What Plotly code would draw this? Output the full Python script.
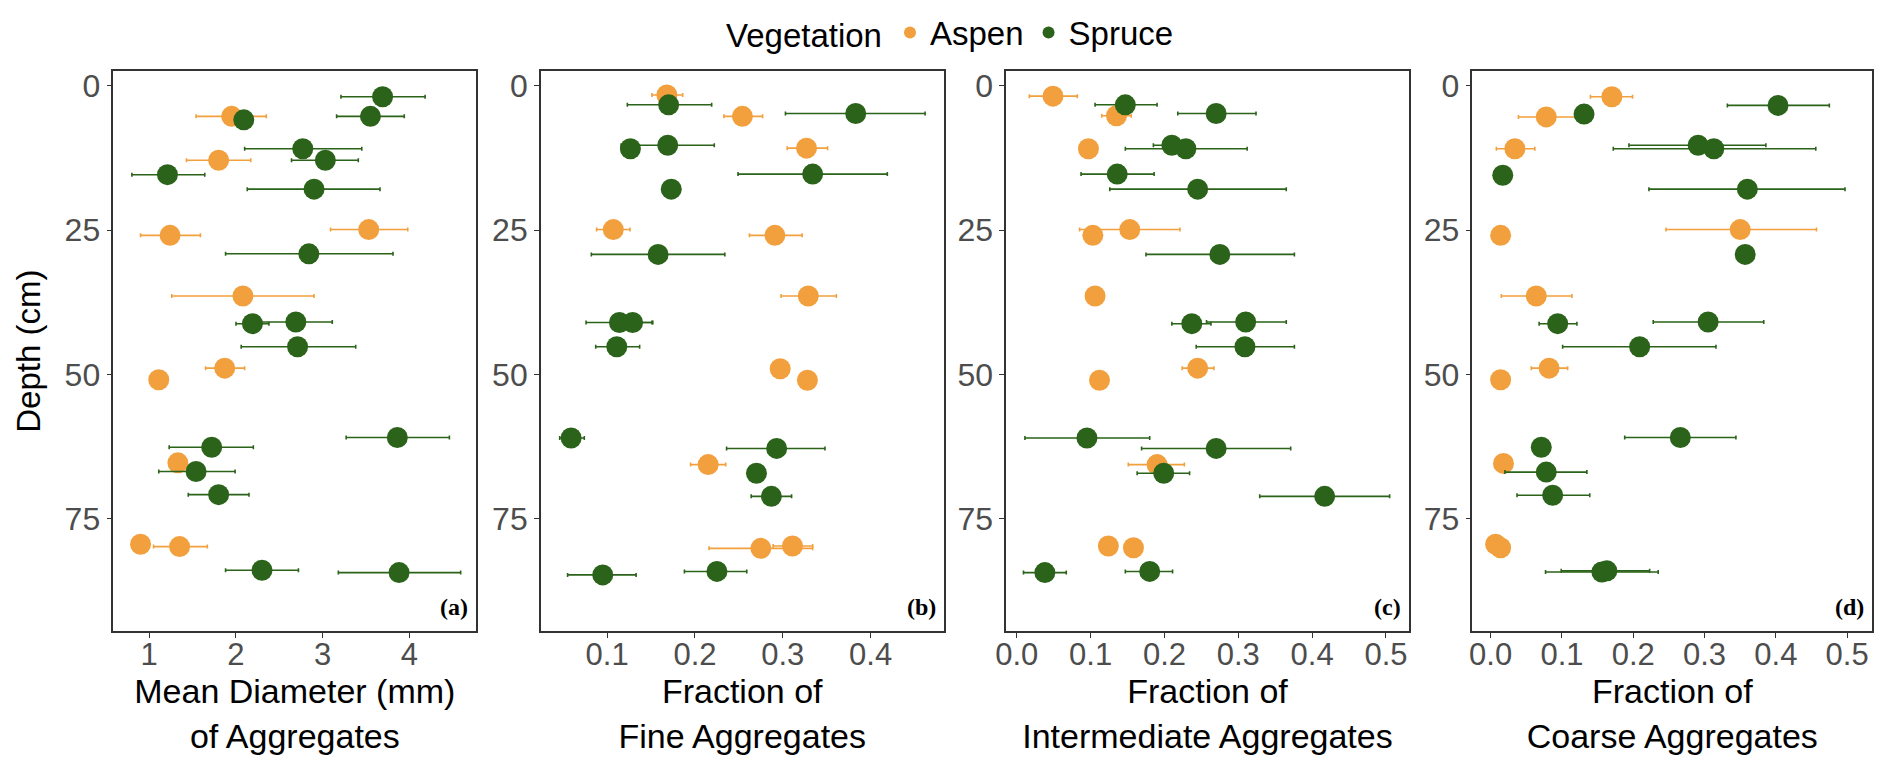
import plotly.graph_objects as go

ORANGE = "#F2A03D"
GREEN = "#2A6319"

# (a) mean diameter of aggregates (mm)
a_asp_depth = [5.3, 12.9, 24.9, 25.9, 36.4, 48.9, 50.9, 65.3, 79.4, 79.8]
a_asp_mean = [1.95, 1.80, 3.53, 1.24, 2.08, 1.87, 1.11, 1.33, 0.90, 1.35]
a_asp_lo = [1.54, 1.43, 3.09, 0.90, 1.26, 1.65, 1.11, 1.33, 0.90, 1.05]
a_asp_hi = [2.35, 2.17, 3.98, 1.59, 2.90, 2.10, 1.11, 1.33, 0.90, 1.67]
a_spr_depth = [1.9, 5.3, 5.9, 10.9, 12.9, 15.4, 17.9, 29.1, 40.9, 41.2, 45.2,
               60.9, 62.6, 66.8, 70.8, 83.9, 84.3]
a_spr_mean = [3.69, 3.55, 2.09, 2.77, 3.03, 1.21, 2.90, 2.84, 2.69, 2.19, 2.71,
              3.86, 1.72, 1.54, 1.80, 2.30, 3.88]
a_spr_lo = [3.21, 3.16, 2.09, 2.10, 2.64, 0.80, 2.13, 1.88, 2.23, 2.00, 2.06,
            3.27, 1.23, 1.11, 1.45, 1.88, 3.18]
a_spr_hi = [4.18, 3.94, 2.09, 3.45, 3.41, 1.64, 3.66, 3.81, 3.11, 2.38, 3.38,
            4.46, 2.20, 1.99, 2.15, 2.72, 4.59]

# (b) fraction of fine aggregates
b_asp_depth = [1.6, 5.3, 10.8, 24.9, 25.9, 36.4, 49.0, 51.0, 65.6, 80.1, 79.7]
b_asp_mean = [0.168, 0.254, 0.327, 0.107, 0.291, 0.329, 0.297, 0.328, 0.215, 0.275, 0.311]
b_asp_lo = [0.151, 0.233, 0.305, 0.088, 0.262, 0.298, 0.297, 0.328, 0.195, 0.216, 0.289]
b_asp_hi = [0.186, 0.277, 0.351, 0.126, 0.322, 0.361, 0.297, 0.328, 0.235, 0.334, 0.334]
b_spr_depth = [3.3, 4.8, 10.3, 10.9, 15.3, 17.9, 29.2, 41.0, 41.0, 45.2,
               61.0, 62.8, 67.1, 71.1, 84.7, 84.1]
b_spr_mean = [0.170, 0.383, 0.169, 0.1265, 0.334, 0.173, 0.158, 0.114, 0.129, 0.111,
              0.059, 0.293, 0.270, 0.287, 0.095, 0.225]
b_spr_lo = [0.123, 0.303, 0.116, 0.1265, 0.249, 0.173, 0.082, 0.076, 0.107, 0.087,
            0.046, 0.236, 0.270, 0.264, 0.055, 0.188]
b_spr_hi = [0.219, 0.462, 0.222, 0.1265, 0.419, 0.173, 0.234, 0.152, 0.151, 0.137,
            0.074, 0.348, 0.270, 0.310, 0.133, 0.259]

# (c) fraction of intermediate aggregates
c_asp_depth = [1.8, 5.2, 10.9, 24.9, 25.9, 36.4, 48.9, 51.0, 65.6, 79.7, 80.0]
c_asp_mean = [0.049, 0.135, 0.097, 0.153, 0.103, 0.106, 0.245, 0.112, 0.190, 0.124, 0.158]
c_asp_lo = [0.017, 0.115, 0.097, 0.085, 0.103, 0.106, 0.224, 0.112, 0.151, 0.124, 0.158]
c_asp_hi = [0.082, 0.155, 0.097, 0.221, 0.103, 0.106, 0.267, 0.112, 0.227, 0.124, 0.158]
c_spr_depth = [3.3, 4.8, 10.3, 10.9, 15.3, 17.9, 29.2, 41.2, 40.9, 45.2,
               61.0, 62.8, 67.1, 71.1, 84.3, 84.1]
c_spr_mean = [0.147, 0.270, 0.210, 0.229, 0.136, 0.245, 0.275, 0.237, 0.310, 0.309,
              0.095, 0.270, 0.199, 0.417, 0.038, 0.180]
c_spr_lo = [0.106, 0.218, 0.185, 0.147, 0.087, 0.126, 0.175, 0.210, 0.257, 0.243,
            0.011, 0.169, 0.163, 0.329, 0.009, 0.147]
c_spr_hi = [0.190, 0.324, 0.236, 0.312, 0.186, 0.365, 0.376, 0.263, 0.365, 0.376,
            0.180, 0.371, 0.234, 0.505, 0.067, 0.211]

# (d) fraction of coarse aggregates
d_asp_depth = [1.9, 5.4, 10.9, 24.9, 25.9, 36.4, 48.9, 50.9, 65.4, 79.4, 80.0]
d_asp_mean = [0.170, 0.078, 0.034, 0.350, 0.014, 0.064, 0.082, 0.014, 0.018, 0.007, 0.014]
d_asp_lo = [0.140, 0.039, 0.008, 0.246, 0.014, 0.015, 0.057, 0.014, 0.018, 0.007, 0.014]
d_asp_hi = [0.199, 0.119, 0.062, 0.457, 0.014, 0.114, 0.108, 0.014, 0.018, 0.007, 0.014]
d_spr_depth = [3.4, 4.9, 10.3, 10.9, 15.5, 17.9, 29.2, 41.2, 40.9, 45.2,
               60.9, 62.6, 66.9, 70.9, 84.2, 84.0]
d_spr_mean = [0.403, 0.131, 0.291, 0.313, 0.017, 0.360, 0.357, 0.094, 0.305, 0.209,
              0.266, 0.071, 0.078, 0.087, 0.156, 0.163]
d_spr_lo = [0.332, 0.131, 0.194, 0.172, 0.017, 0.222, 0.357, 0.068, 0.228, 0.101,
            0.188, 0.071, 0.020, 0.037, 0.077, 0.099]
d_spr_hi = [0.475, 0.131, 0.386, 0.456, 0.017, 0.497, 0.357, 0.121, 0.383, 0.316,
            0.344, 0.071, 0.135, 0.139, 0.235, 0.223]

titles = ["Mean Diameter (mm)<br>of Aggregates", "Fraction of<br>Fine Aggregates",
          "Fraction of<br>Intermediate Aggregates", "Fraction of<br>Coarse Aggregates"]
tags = ["(a)", "(b)", "(c)", "(d)"]
x_ranges = [[0.587, 4.77], [0.0246, 0.483], [-0.0144, 0.531], [-0.0255, 0.535]]
x_ticks = [[1, 2, 3, 4], [0.1, 0.2, 0.3, 0.4],
           [0.0, 0.1, 0.2, 0.3, 0.4, 0.5], [0.0, 0.1, 0.2, 0.3, 0.4, 0.5]]
x_ticktext = [["1", "2", "3", "4"], ["0.1", "0.2", "0.3", "0.4"],
              ["0.0", "0.1", "0.2", "0.3", "0.4", "0.5"], ["0.0", "0.1", "0.2", "0.3", "0.4", "0.5"]]
domains = [[103 / 1892, 468 / 1892], [533 / 1892, 938 / 1892],
           [1001 / 1892, 1406 / 1892], [1470 / 1892, 1872 / 1892]]

panels = [
    (a_asp_depth, a_asp_mean, a_asp_lo, a_asp_hi, a_spr_depth, a_spr_mean, a_spr_lo, a_spr_hi),
    (b_asp_depth, b_asp_mean, b_asp_lo, b_asp_hi, b_spr_depth, b_spr_mean, b_spr_lo, b_spr_hi),
    (c_asp_depth, c_asp_mean, c_asp_lo, c_asp_hi, c_spr_depth, c_spr_mean, c_spr_lo, c_spr_hi),
    (d_asp_depth, d_asp_mean, d_asp_lo, d_asp_hi, d_spr_depth, d_spr_mean, d_spr_lo, d_spr_hi),
]

FONT = "Arial, Liberation Sans, sans-serif"
fig = go.Figure()

for i, p in enumerate(panels):
    xa = "x" if i == 0 else "x%d" % (i + 1)
    ya = "y" if i == 0 else "y%d" % (i + 1)
    for name, color, dep, mean, lo, hi in [("Aspen", ORANGE, p[0], p[1], p[2], p[3]),
                                           ("Spruce", GREEN, p[4], p[5], p[6], p[7])]:
        fig.add_trace(go.Scatter(
            x=mean, y=dep, mode="markers", name=name, legendgroup=name,
            showlegend=(i == 0), xaxis=xa, yaxis=ya,
            marker=dict(color=color, size=21, line=dict(width=0)),
            error_x=dict(type="data", symmetric=False,
                         array=[h - m for h, m in zip(hi, mean)],
                         arrayminus=[m - l for m, l in zip(mean, lo)],
                         color=color, thickness=1.6, width=2),
        ))
    sfx = "" if i == 0 else str(i + 1)
    fig.layout["xaxis" + sfx] = dict(
        domain=domains[i], range=x_ranges[i], anchor=ya,
        tickvals=x_ticks[i], ticktext=x_ticktext[i],
        showline=True, mirror=True, linecolor="#333333", linewidth=1.6,
        ticks="outside", ticklen=5, tickcolor="#333333", tickwidth=1.2,
        ticklabelstandoff=-10,
        showgrid=False, zeroline=False,
        tickfont=dict(size=31, color="#4D4D4D", family=FONT),
        title=dict(text=titles[i], font=dict(size=34, color="black", family=FONT), standoff=0),
    )
    fig.layout["yaxis" + sfx] = dict(
        domain=[0.1752, 0.9111], range=[94.5, -2.6], anchor=xa,
        tickvals=[0, 25, 50, 75],
        showline=True, mirror=True, linecolor="#333333", linewidth=1.6,
        ticks="outside", ticklen=5, tickcolor="#333333", tickwidth=1.2,
        showgrid=False, zeroline=False,
        tickfont=dict(size=32, color="#4D4D4D", family=FONT),
    )
    fig.add_annotation(text="<b>%s</b>" % tags[i], xref=xa + " domain", yref=ya + " domain",
                       x=1, y=0, xanchor="right", yanchor="bottom", xshift=-6, yshift=9,
                       showarrow=False,
                       font=dict(size=24, color="black", family="Liberation Serif, Times New Roman, serif"))

fig.layout.yaxis.title = dict(text="Depth (cm)", font=dict(size=33, color="black", family=FONT), standoff=14)

fig.update_layout(
    width=1892, height=765,
    margin=dict(l=0, r=0, t=0, b=0),
    plot_bgcolor="white", paper_bgcolor="white",
    font=dict(family=FONT),
    legend=dict(orientation="h", x=0.5, xanchor="center", y=0.998, yanchor="top",
                title=dict(text="Vegetation", side="left", font=dict(size=33, color="black")),
                font=dict(size=33, color="black"), itemsizing="constant"),
)

# drop the browser's default body margin so the 1892x765 figure fills the window exactly
fig.write_html("out.html", config={"displayModeBar": False},
               post_script="document.body.style.margin='0px';")
